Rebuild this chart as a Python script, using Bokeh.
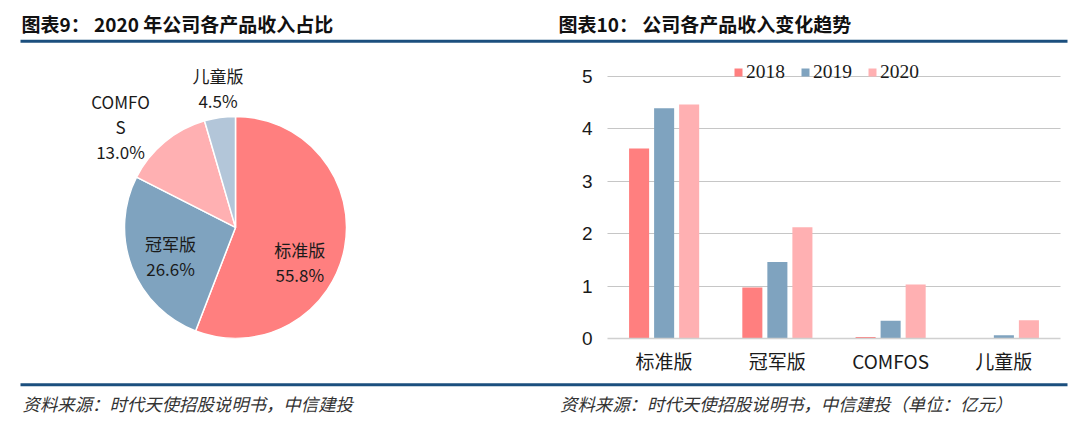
import numpy as np
from bokeh.plotting import figure
from bokeh.models import (ColumnDataSource, FactorRange, Range1d, FixedTicker,
                          Legend, LegendItem)
from bokeh.layouts import column, row
from bokeh.transform import dodge
from bokeh.core.properties import value
from bokeh.embed import file_html
from bokeh.resources import INLINE

# ---------------- data ----------------
pie_labels = ["标准版", "冠军版", "COMFOS", "儿童版"]
pie_label_text = ["标准版\n55.8%", "冠军版\n26.6%", "COMFO\nS\n13.0%", "儿童版\n4.5%"]
pie_shares = [55.8, 26.6, 13.0, 4.5]

categories = ["标准版", "冠军版", "COMFOS", "儿童版"]
years = ["2018", "2019", "2020"]
rev_2018 = [3.62, 0.97, 0.03, 0.0]
rev_2019 = [4.39, 1.46, 0.34, 0.06]
rev_2020 = [4.46, 2.12, 1.03, 0.35]
y_ticks = [0, 1, 2, 3, 4, 5]

title_left = "图表9：  2020 年公司各产品收入占比"
title_right = "图表10：  公司各产品收入变化趋势"
source_left = "资料来源：时代天使招股说明书，中信建投"
source_right = "资料来源：时代天使招股说明书，中信建投（单位：亿元）"

# ---------------- styles ----------------
PIE_COLORS = ["#FF7F7F", "#7FA3BF", "#FFB0B2", "#B3C6D9"]
BAR_COLORS = ["#FF7F7F", "#7FA3BF", "#FFB0B2"]
LINE_BLUE = "#1B4F7E"
CJK = "Noto Sans CJK SC"
W = 1072
H_HEAD = 58
H_MID = 318
H_FOOT = 40
W_PIE = 540
W_BAR = W - W_PIE
B_BOTTOM = 37           # bottom border shared by pie and bar panels
FRAME_H = H_MID - B_BOTTOM

def blank(width, height, bottom=0):
    f = figure(width=width, height=height, output_backend="svg",
               toolbar_location=None, x_range=Range1d(0, width),
               y_range=Range1d(0, height - bottom), min_border=0,
               min_border_bottom=bottom,
               x_axis_location=None, y_axis_location=None)
    f.grid.visible = False
    f.outline_line_color = None
    f.background_fill_color = None
    f.border_fill_color = None
    return f

# ---------------- header ----------------
head = blank(W, H_HEAD)
head.text(x=[21, 558], y=[H_HEAD - 22.5] * 2, text=[title_left, title_right],
          text_font=value(CJK), text_font_style="bold", text_font_size="19px",
          text_color="#111111", text_baseline="middle", text_align="left")
head.segment(x0=[20], y0=[H_HEAD - 40.8], x1=[1067], y1=[H_HEAD - 40.8],
             line_color=LINE_BLUE, line_width=3)

# ---------------- pie ----------------
pie = blank(W_PIE, H_MID, bottom=B_BOTTOM)
cx, cy, R = 235, FRAME_H - 169.5, 111
shares = np.array(pie_shares) / np.sum(pie_shares)
cum = np.concatenate([[0], np.cumsum(shares)])
start = np.pi / 2 - cum[:-1] * 2 * np.pi
end = np.pi / 2 - cum[1:] * 2 * np.pi
pie_src = ColumnDataSource(dict(start=start, end=end, color=PIE_COLORS))
pie.wedge(x=cx, y=cy, radius=R, start_angle="end", end_angle="start",
          fill_color="color", line_color="white", line_width=1.5, source=pie_src)

label_r = np.array([0.66, 0.64, 1.38, 1.27])
label_nudge = np.radians([-18, 3, 9, -1])
mid = (start + end) / 2 + label_nudge
lx = cx + label_r * R * np.cos(mid)
ly = cy + label_r * R * np.sin(mid)
pie.text(x=lx, y=ly, text=pie_label_text, text_font=value(CJK),
         text_font_size="17px", text_color="#1a1a1a", text_align="center",
         text_baseline="middle", text_line_height=1.0)

# ---------------- bars ----------------
src = ColumnDataSource(dict(cat=categories, y2018=rev_2018, y2019=rev_2019, y2020=rev_2020))
bar = figure(width=W_BAR, height=H_MID, output_backend="svg", toolbar_location=None,
             x_range=FactorRange(*categories), y_range=Range1d(0, 5.336),
             min_border_left=67, min_border_right=12, min_border_top=0,
             min_border_bottom=B_BOTTOM)
bar.outline_line_color = None
bar.background_fill_color = None
bar.border_fill_color = None
bw = 0.177
step = 0.221
rends = []
for i, (yr, col) in enumerate(zip(years, BAR_COLORS)):
    r = bar.vbar(x=dodge("cat", (i - 1) * step, range=bar.x_range), top="y" + yr,
                 width=bw, fill_color=col, line_color=None, source=src)
    rends.append(r)

bar.yaxis.ticker = FixedTicker(ticks=y_ticks)
bar.yaxis.axis_line_color = None
bar.yaxis.major_tick_line_color = None
bar.yaxis.major_tick_out = 0
bar.yaxis.major_tick_in = 0
bar.yaxis.minor_tick_line_color = None
bar.yaxis.major_label_standoff = 15
bar.yaxis.major_label_text_font = "Liberation Sans"
bar.yaxis.major_label_text_font_size = "19px"
bar.yaxis.major_label_text_color = "#1a1a1a"

bar.xaxis.axis_line_color = "#D0D0D0"
bar.xaxis.axis_line_width = 1.5
bar.xaxis.major_tick_line_color = None
bar.xaxis.major_tick_out = 0
bar.xaxis.major_tick_in = 0
bar.xaxis.minor_tick_line_color = None
bar.xaxis.major_label_standoff = 8
bar.xaxis.major_label_text_font = CJK
bar.xaxis.major_label_text_font_size = "19px"
bar.xaxis.major_label_text_color = "#1a1a1a"

bar.xgrid.grid_line_color = None
bar.ygrid.ticker = FixedTicker(ticks=y_ticks[1:])
bar.ygrid.grid_line_color = "#8C8C8C"
bar.ygrid.grid_line_dash = "1 1"
bar.ygrid.grid_line_width = 1

legend = Legend(items=[LegendItem(label=yr, renderers=[r]) for yr, r in zip(years, rends)],
                orientation="horizontal", location=(126, 255),
                background_fill_alpha=0, border_line_color=None,
                glyph_width=10, glyph_height=10, label_text_font="Liberation Serif",
                label_text_font_size="19.5px", label_text_color="#1a1a1a",
                spacing=15, padding=0, margin=0, label_standoff=3,
                label_height=14)
bar.add_layout(legend)

# ---------------- footer ----------------
foot = blank(W, H_FOOT)
foot.segment(x0=[20], y0=[H_FOOT - 8.3], x1=[1067], y1=[H_FOOT - 8.3],
             line_color=LINE_BLUE, line_width=3)
foot.text(x=[22, 559.5], y=[H_FOOT - 27] * 2, text=[source_left, source_right],
          text_font=value(CJK), text_font_style="italic", text_font_size="17.4px",
          text_color="#333333", text_baseline="middle", text_align="left")

layout = column(head, row(pie, bar, spacing=0), foot, spacing=0)
open("out.html", "w").write(file_html(layout, INLINE))
